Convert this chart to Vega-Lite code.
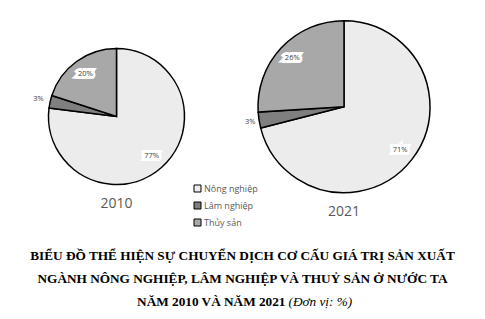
{
  "$schema": "https://vega.github.io/schema/vega-lite/v6.json",
  "padding": 0,
  "background": "white",
  "config": {"view": {"stroke": null}},
  "datasets": {
    "co_cau": [
      {"nam": "2010", "thu_tu": 1, "nganh": "Nông nghiệp", "ty_le": 77},
      {"nam": "2010", "thu_tu": 2, "nganh": "Lâm nghiệp", "ty_le": 3},
      {"nam": "2010", "thu_tu": 3, "nganh": "Thủy sản", "ty_le": 20},
      {"nam": "2021", "thu_tu": 1, "nganh": "Nông nghiệp", "ty_le": 71},
      {"nam": "2021", "thu_tu": 2, "nganh": "Lâm nghiệp", "ty_le": 3},
      {"nam": "2021", "thu_tu": 3, "nganh": "Thủy sản", "ty_le": 26}
    ],
    "tieu_de": [
      {"dong": 1, "phan": "chinh", "noi_dung": "BIỂU ĐỒ THỂ HIỆN SỰ CHUYỂN DỊCH CƠ CẤU GIÁ TRỊ SẢN XUẤT"},
      {"dong": 2, "phan": "chinh", "noi_dung": "NGÀNH NÔNG NGHIỆP, LÂM NGHIỆP VÀ THUỶ SẢN Ở NƯỚC TA"},
      {"dong": 3, "phan": "chinh", "noi_dung": "NĂM 2010 VÀ NĂM 2021"},
      {"dong": 3, "phan": "don_vi", "noi_dung": "(Đơn vị: %)"}
    ]
  },
  "spacing": 11.5,
  "vconcat": [
    {
      "spacing": 11,
      "hconcat": [
        {
          "width": 233,
          "height": 233,
          "data": {"name": "co_cau"},
          "transform": [
            {"filter": "datum.nam == '2010'"},
            {"calculate": "datum.ty_le + '%'", "as": "nhan"}
          ],
          "title": {"text": "2010", "orient": "bottom", "offset": -36, "fontSize": 14, "fontWeight": "normal", "color": "#595959", "font": "Open Sans"},
          "encoding": {
            "theta": {"field": "ty_le", "type": "quantitative", "stack": true},
            "color": {
              "field": "nganh", "type": "nominal",
              "scale": {"domain": ["Nông nghiệp", "Lâm nghiệp", "Thủy sản"], "range": ["#ececec", "#7f7f7f", "#a8a8a8"]},
              "legend": {"orient": "none", "legendX": 193, "legendY": 184, "title": null, "symbolType": "square", "symbolSize": 49, "symbolStrokeColor": "black", "symbolStrokeWidth": 1, "labelFont": "Open Sans", "labelFontSize": 9, "labelColor": "#595959", "rowPadding": 6, "labelOffset": 2, "padding": 0}
            },
            "order": {"field": "thu_tu", "type": "quantitative", "sort": "ascending"}
          },
          "layer": [
            {"mark": {"type": "arc", "outerRadius": 68, "stroke": "black", "strokeWidth": 1.5}},
            {
              "mark": {"type": "text", "radius": 53, "fontSize": 7.5, "font": "Open Sans", "stroke": "white", "strokeWidth": 6, "fill": "white"},
              "encoding": {"text": {"field": "nhan"}, "opacity": {"condition": {"test": "datum.ty_le < 10", "value": 0}, "value": 1}, "color": {"field": "nganh", "type": "nominal", "legend": null}}
            },
            {
              "mark": {"type": "text", "radius": 53, "fontSize": 7.5, "font": "Open Sans", "fill": "#404040"},
              "encoding": {"text": {"field": "nhan"}, "opacity": {"condition": {"test": "datum.ty_le < 10", "value": 0}, "value": 1}, "color": {"field": "nganh", "type": "nominal", "legend": null}}
            },
            {
              "mark": {"type": "text", "radius": 80, "fontSize": 7.5, "font": "Open Sans", "fill": "#404040"},
              "encoding": {"text": {"field": "nhan"}, "opacity": {"condition": {"test": "datum.ty_le < 10", "value": 1}, "value": 0}, "color": {"field": "nganh", "type": "nominal", "legend": null}}
            }
          ]
        },
        {
          "width": 200,
          "height": 213.4,
          "data": {"name": "co_cau"},
          "transform": [
            {"filter": "datum.nam == '2021'"},
            {"calculate": "datum.ty_le + '%'", "as": "nhan"}
          ],
          "title": {"text": "2021", "orient": "bottom", "offset": -8, "fontSize": 14, "fontWeight": "normal", "color": "#595959", "font": "Open Sans"},
          "encoding": {
            "theta": {"field": "ty_le", "type": "quantitative", "stack": true},
            "color": {"field": "nganh", "type": "nominal"},
            "order": {"field": "thu_tu", "type": "quantitative", "sort": "ascending"}
          },
          "layer": [
            {"mark": {"type": "arc", "outerRadius": 86, "stroke": "black", "strokeWidth": 1.5}},
            {
              "mark": {"type": "text", "radius": 71, "fontSize": 7.5, "font": "Open Sans", "stroke": "white", "strokeWidth": 6, "fill": "white"},
              "encoding": {"text": {"field": "nhan"}, "opacity": {"condition": {"test": "datum.ty_le < 10", "value": 0}, "value": 1}, "color": {"field": "nganh", "type": "nominal", "legend": null}}
            },
            {
              "mark": {"type": "text", "radius": 71, "fontSize": 7.5, "font": "Open Sans", "fill": "#404040"},
              "encoding": {"text": {"field": "nhan"}, "opacity": {"condition": {"test": "datum.ty_le < 10", "value": 0}, "value": 1}, "color": {"field": "nganh", "type": "nominal", "legend": null}}
            },
            {
              "mark": {"type": "text", "radius": 95, "fontSize": 7.5, "font": "Open Sans", "fill": "#404040"},
              "encoding": {"text": {"field": "nhan"}, "opacity": {"condition": {"test": "datum.ty_le < 10", "value": 1}, "value": 0}, "color": {"field": "nganh", "type": "nominal", "legend": null}}
            }
          ]
        }
      ]
    },
    {
      "width": 485,
      "height": 69,
      "data": {"name": "tieu_de"},
      "encoding": {
        "y": {"field": "dong", "type": "quantitative", "scale": {"domain": [3.5, 0.5]}, "axis": null}
      },
      "layer": [
        {
          "transform": [{"filter": "datum.dong < 3"}],
          "mark": {"type": "text", "font": "Liberation Serif", "fontSize": 13.25, "fontWeight": "bold", "align": "center", "x": 242.5, "color": "black"},
          "encoding": {"text": {"field": "noi_dung"}}
        },
        {
          "transform": [{"filter": "datum.dong == 3 && datum.phan == 'chinh'"}],
          "mark": {"type": "text", "font": "Liberation Serif", "fontSize": 13.25, "fontWeight": "bold", "align": "right", "x": 285.5, "color": "black"},
          "encoding": {"text": {"field": "noi_dung"}}
        },
        {
          "transform": [{"filter": "datum.phan == 'don_vi'"}],
          "mark": {"type": "text", "font": "Liberation Serif", "fontSize": 13.25, "fontStyle": "italic", "align": "left", "x": 288.5, "color": "black"},
          "encoding": {"text": {"field": "noi_dung"}}
        }
      ]
    }
  ]
}
